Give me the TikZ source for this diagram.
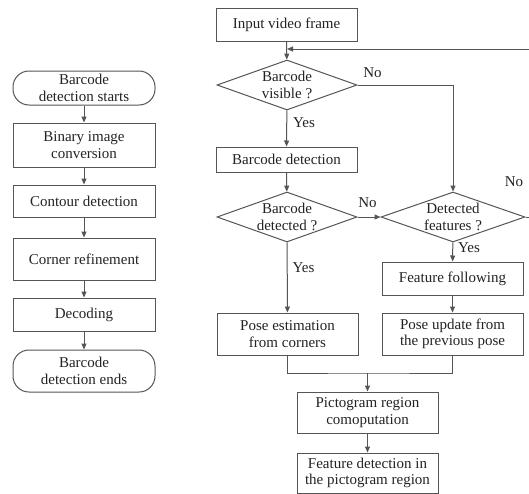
\documentclass[tikz,border=0pt]{standalone}
\usepackage{fontspec}
\setmainfont{Liberation Serif}
\usetikzlibrary{shapes.geometric,arrows.meta}
\definecolor{lc}{RGB}{85,85,85}
\definecolor{tc}{RGB}{35,35,35}
\begin{document}
\begin{tikzpicture}[x=1pt,y=-1pt,
  every node/.style={font=\fontsize{15}{16.5}\selectfont, text=tc, align=center},
  box/.style={draw=lc, line width=1pt, rectangle, minimum width=141pt, inner sep=0pt},
  term/.style={box, rounded corners=16pt},
  dia/.style={draw=lc, line width=1pt, diamond, minimum width=140pt, minimum height=50pt, inner sep=0pt},
  arr/.style={draw=lc, line width=1pt, -{Triangle[length=6pt,width=5pt]}},
  ln/.style={draw=lc, line width=1pt},
  lab/.style={inner sep=0pt}
]
\useasboundingbox (0,0) rectangle (529,493);
\fill[white] (0,0) rectangle (529,493);

% left column
\node[term, minimum width=142pt, minimum height=34pt] (s) at (84,88) {Barcode\\detection starts};
\node[box, minimum width=142pt, minimum height=44pt] (bin) at (84,145) {Binary image\\conversion};
\node[box, minimum width=142pt, minimum height=32pt] (con) at (84,201) {Contour detection};
\node[box, minimum width=142pt, minimum height=42pt] (cor) at (84,259) {Corner refinement};
\node[box, minimum width=142pt, minimum height=33pt] (dec) at (84,314.5) {Decoding};
\node[term, minimum width=142pt, minimum height=42pt] (e) at (84,371) {Barcode\\detection ends};
\draw[arr] (s) -- (bin);
\draw[arr] (bin) -- (con);
\draw[arr] (con) -- (cor);
\draw[arr] (cor) -- (dec);
\draw[arr] (dec) -- (e);

% right part
\node[box, minimum height=33pt] (in) at (286.5,24.5) {Input video frame};
\node[dia] (d1) at (287,85) {};
\node at (d1) {Barcode\\visible ?};
\node[box, minimum height=25pt] (bd) at (286.5,159.5) {Barcode detection};
\node[dia] (d2) at (287,217) {};
\node at (d2) {Barcode\\detected ?};
\node[dia, minimum width=144pt] (d3) at (453,217) {};
\node at (d3) {Detected\\features ?};
\node[box, minimum height=33pt] (ff) at (452.5,278.5) {Feature following};
\node[box, minimum height=42pt] (pe) at (287.5,334) {Pose estimation\\from corners};
\node[box, minimum height=42pt] (pu) at (452.5,334) {Pose update from\\the previous pose};
\node[box, minimum height=41pt] (pr) at (367.5,412.5) {Pictogram region\\comoputation};
\node[box, minimum height=40pt] (fd) at (367.5,473) {Feature detection in\\the pictogram region};

\coordinate (j) at (287,49);
\coordinate (m) at (367.5,373);
\draw[arr] (in) -- (d1);
\draw[arr] (d3.east) -- (545,217) |- (j);
\draw[arr] (d1.east) -| (d3.north);
\draw[arr] (d1) -- (bd);
\draw[arr] (bd) -- (d2);
\draw[arr] (d2.east) -- (d3.west);
\draw[arr] (d2) -- (pe);
\draw[arr] (d3) -- (ff);
\draw[arr] (ff) -- (pu);
\draw[ln] (pe.south) |- (m) -| (pu.south);
\draw[arr] (m) -- (pr);
\draw[arr] (pr) -- (fd);

\node[lab] (l1) at (372.5,73) {No};
\node[lab] (l2) at (304,123) {Yes};
\node[lab] (l3) at (367.5,203) {No};
\node[lab] (l4) at (514,182) {No};
\node[lab] (l5) at (469,248) {Yes};
\node[lab] (l6) at (303.5,268) {Yes};
\end{tikzpicture}
\end{document}
